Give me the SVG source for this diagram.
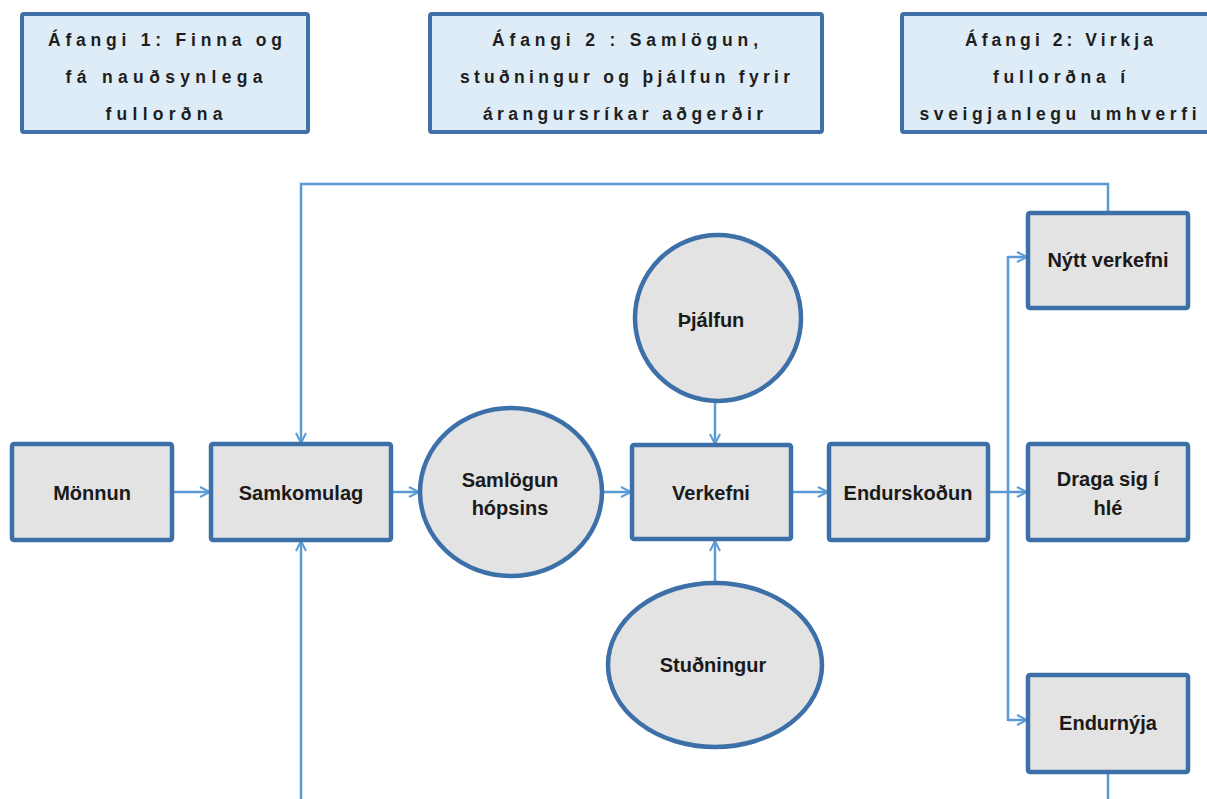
<svg xmlns="http://www.w3.org/2000/svg" width="1207" height="799" viewBox="0 0 1207 799">
<defs>
<style>
.stage rect{fill:#deecf7;stroke:#3f70a8;stroke-width:4}
.stage text{font-family:"Liberation Sans",Arial,sans-serif;font-weight:bold;font-size:17.5px;fill:#1e1e1e;text-anchor:middle}
.node rect,.node ellipse{fill:#e3e3e3;stroke:#3d70a9;stroke-width:4.5}
.node text{font-family:"Liberation Sans",Arial,sans-serif;font-weight:bold;font-size:20px;fill:#1a1a1a;text-anchor:middle}
.conn{fill:none;stroke:#5b9bd5;stroke-width:2.5}
</style>
<marker id="arr" viewBox="0 0 12 12" refX="11" refY="6" markerWidth="12" markerHeight="12" markerUnits="userSpaceOnUse" orient="auto">
<path d="M1,1 L11,6 L1,11" fill="none" stroke="#5b9bd5" stroke-width="2"/>
</marker>
</defs>
<rect width="1207" height="799" fill="#ffffff"/>

<g id="stage1" class="stage">
<rect x="22" y="14" width="286" height="118" rx="2"/>
<text x="165" y="46" textLength="234" lengthAdjust="spacing">Áfangi 1:  Finna og</text>
<text x="164" y="83" textLength="197" lengthAdjust="spacing">fá  nauðsynlega</text>
<text x="164" y="120" textLength="117" lengthAdjust="spacing">fullorðna</text>
</g>
<g id="stage2" class="stage">
<rect x="430" y="14" width="392" height="118" rx="2"/>
<text x="625" y="46" textLength="266" lengthAdjust="spacing">Áfangi 2 :  Samlögun,</text>
<text x="625" y="83" textLength="330" lengthAdjust="spacing">stuðningur og þjálfun fyrir</text>
<text x="623" y="120" textLength="280" lengthAdjust="spacing">árangursríkar aðgerðir</text>
</g>
<g id="stage3" class="stage">
<rect x="902" y="14" width="316" height="118" rx="2"/>
<text x="1059" y="46" textLength="188" lengthAdjust="spacing">Áfangi 2: Virkja</text>
<text x="1059" y="83" textLength="132" lengthAdjust="spacing">fullorðna í</text>
<text x="1058" y="120" textLength="277" lengthAdjust="spacing">sveigjanlegu umhverfi</text>
</g>

<g id="connectors">
<line class="conn" x1="172" y1="492" x2="210" y2="492" marker-end="url(#arr)"/>
<line class="conn" x1="391" y1="492" x2="419" y2="492" marker-end="url(#arr)"/>
<line class="conn" x1="602" y1="492" x2="631" y2="492" marker-end="url(#arr)"/>
<line class="conn" x1="791" y1="492" x2="828" y2="492" marker-end="url(#arr)"/>
<line class="conn" x1="988" y1="492" x2="1027" y2="492" marker-end="url(#arr)"/>
<line class="conn" x1="1008" y1="256" x2="1008" y2="721"/>
<polyline class="conn" points="1008,257 1027,257" marker-end="url(#arr)"/>
<polyline class="conn" points="1008,720 1027,720" marker-end="url(#arr)"/>
<line class="conn" x1="715" y1="402" x2="715" y2="444" marker-end="url(#arr)"/>
<line class="conn" x1="715" y1="583" x2="715" y2="541" marker-end="url(#arr)"/>
<polyline class="conn" points="1108,213 1108,184 301,184 301,443" marker-end="url(#arr)"/>
<line class="conn" x1="1108" y1="772" x2="1108" y2="805"/>
<line class="conn" x1="301" y1="805" x2="301" y2="541" marker-end="url(#arr)"/>
</g>

<g id="monnun" class="node">
<rect x="12" y="444" width="160" height="96" rx="2"/>
<text x="92" y="500">Mönnun</text>
</g>
<g id="samkomulag" class="node">
<rect x="211" y="444" width="180" height="96" rx="2"/>
<text x="301" y="500">Samkomulag</text>
</g>
<g id="samlogun" class="node">
<ellipse cx="511" cy="492" rx="91" ry="84"/>
<text x="510" y="487">Samlögun</text>
<text x="510" y="515">hópsins</text>
</g>
<g id="thjalfun" class="node">
<ellipse cx="718" cy="318" rx="83" ry="83"/>
<text x="711" y="327">Þjálfun</text>
</g>
<g id="verkefni" class="node">
<rect x="632" y="445" width="159" height="94" rx="2"/>
<text x="711" y="500">Verkefni</text>
</g>
<g id="studningur" class="node">
<ellipse cx="715" cy="665" rx="107" ry="82"/>
<text x="713" y="672">Stuðningur</text>
</g>
<g id="endurskodun" class="node">
<rect x="829" y="444" width="159" height="96" rx="2"/>
<text x="908" y="500">Endurskoðun</text>
</g>
<g id="nytt" class="node">
<rect x="1028" y="213" width="160" height="95" rx="2"/>
<text x="1108" y="267">Nýtt verkefni</text>
</g>
<g id="draga" class="node">
<rect x="1028" y="444" width="160" height="96" rx="2"/>
<text x="1108" y="486">Draga sig í</text>
<text x="1108" y="515">hlé</text>
</g>
<g id="endurnyja" class="node">
<rect x="1028" y="675" width="160" height="97" rx="2"/>
<text x="1108" y="730">Endurnýja</text>
</g>
</svg>
